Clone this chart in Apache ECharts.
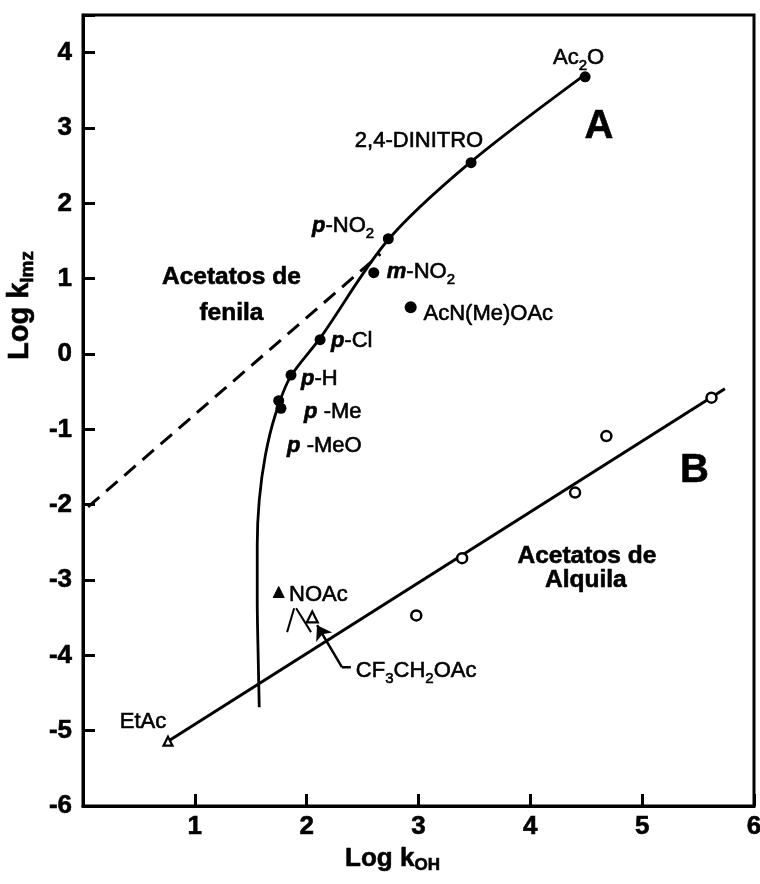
<!DOCTYPE html>
<html><head><meta charset="utf-8">
<script src="https://cdn.jsdelivr.net/npm/echarts@6/dist/echarts.min.js"></script>
<style>html,body{margin:0;padding:0;background:#fff}#c{width:760px;height:884px}</style>
</head><body><div id="c"></div>
<script>
// ---- data ----
const xTickLabels = ['1','2','3','4','5','6'];
const yTickLabels = ['-6','-5','-4','-3','-2','-1','0','1','2','3','4'];

// A: phenyl acetates etc. (filled circles)
const phenylNames = ['Ac2O','2,4-DINITRO','p-NO2','m-NO2','AcN(Me)OAc','p-Cl','p-H','p-Me','p-MeO'];
const phenylX = [4.49, 3.47, 2.73, 2.60, 2.93, 2.12, 1.86, 1.75, 1.77];
const phenylY = [3.68, 2.54, 1.53, 1.08, 0.62, 0.19, -0.28, -0.62, -0.72];

// B: alkyl acetates (open circles)
const alkylX = [5.62, 4.68, 4.40, 3.39, 2.98];
const alkylY = [-0.58, -1.09, -1.84, -2.71, -3.47];

// triangles
const triNames = ['NOAc', 'CF3CH2OAc', 'EtAc'];
const triX = [1.75, 2.05, 0.76];
const triY = [-3.16, -3.49, -5.14];

// curve A (solid)
const curveAX = [4.48, 3.46, 2.725, 2.12, 1.852, 1.719, 1.630, 1.576, 1.558, 1.558, 1.567, 1.576];
const curveAY = [3.70, 2.54, 1.51, 0.21, -0.31, -0.81, -1.35, -1.94, -2.54, -3.27, -4.06, -4.69];

// dashed line
const dashX = [0.045, 2.66];
const dashY = [-2.03, 1.33];

// line B
const lineBX = [0.75, 5.74];
const lineBY = [-5.15, -0.46];

// small strokes under NOAc and the arrow to CF3CH2OAc
const strokeL = [[1.888, -3.374], [1.825, -3.692]];
const strokeR = [[1.906, -3.374], [2.039, -3.692]];
const arrowPath = [[2.395, -4.157], [2.315, -4.157], [2.093, -3.60]];

// text annotations: [x, y, text, align]
const annotations = [
  [4.203, 3.934, 'Ac{s|2}O', 'left'],
  [2.431, 2.833, '2,4-DINITRO', 'left'],
  [2.048, 1.705, '{i|p}-NO{s|2}', 'left'],
  [2.716, 1.095, '{i|m}-NO{s|2}', 'left'],
  [3.045, 0.538, 'AcN(Me)OAc', 'left'],
  [2.217, 0.180, '{i|p}-Cl', 'left'],
  [1.950, -0.337, '{i|p}-H', 'left'],
  [1.977, -0.775, '{i|p} -Me', 'left'],
  [1.825, -1.225, '{i|p} -MeO', 'left'],
  [1.843, -3.202, 'NOAc', 'left'],
  [2.440, -4.210, 'CF{s|3}CH{s|2}OAc', 'left'],
  [0.329, -4.886, 'EtAc', 'left'],
  [1.327, 1.016, '{b|Acetatos de}', 'center'],
  [1.327, 0.538, '{b|fenila}', 'center'],
  [4.613, 3.019, '{big|A}', 'center'],
  [5.467, -1.557, '{big|B}', 'center'],
  [4.506, -2.684, '{b|Acetatos de}', 'center'],
  [4.497, -3.003, '{b|Alquila}', 'center']
];

// ---- chart ----
const FF = '"Liberation Sans", Arial, Helvetica, sans-serif';
const zip = (xs, ys) => xs.map((x, i) => [x, ys[i]]);
const heavy = {textBorderColor: '#000', textBorderWidth: 0.6};
const richStyles = {
  i: Object.assign({fontFamily: FF, fontSize: 22, fontStyle: 'italic', fontWeight: 'bold', color: '#000'}, heavy),
  s: Object.assign({fontFamily: FF, fontSize: 15, color: '#000', padding: [16, 0, 0, 0]}, heavy),
  b: Object.assign({fontFamily: FF, fontSize: 24.5, fontWeight: 'bold', color: '#000'}, heavy),
  big: Object.assign({fontFamily: FF, fontSize: 40, fontWeight: 'bold', color: '#000'}, heavy)
};

const chart = echarts.init(document.getElementById('c'), null, {renderer: 'canvas'});
chart.setOption({
  backgroundColor: '#fff',
  animation: false,
  grid: {left: 83, right: 6, top: 15, bottom: 78, show: true, borderColor: '#000', borderWidth: 3,
         containLabel: false, outerBoundsMode: 'none'},
  xAxis: {
    type: 'value', min: 0, max: 6, interval: 1,
    axisLine: {show: true, onZero: false, lineStyle: {color: '#000', width: 3}},
    axisTick: {show: true, inside: true, length: 12, lineStyle: {color: '#000', width: 3}},
    splitLine: {show: false},
    axisLabel: Object.assign({
      color: '#000', fontFamily: FF, fontSize: 26, fontWeight: 'bold', margin: 8,
      formatter: v => { const s = String(Math.round(v)); return (Math.abs(v - Math.round(v)) < 1e-9 && xTickLabels.includes(s)) ? s : ''; }
    }, heavy),
    name: '{a|Log k}{b|OH}', nameLocation: 'middle', nameGap: 37,
    nameTextStyle: {
      padding: [0, 52, 0, 0],
      rich: {
        a: Object.assign({fontFamily: FF, fontSize: 26, fontWeight: 'bold', color: '#000'}, heavy),
        b: Object.assign({fontFamily: FF, fontSize: 17, fontWeight: 'bold', color: '#000', padding: [14, 0, 0, 0]}, heavy)
      }
    }
  },
  yAxis: {
    type: 'value', min: -6, max: 4.5, interval: 1,
    axisLine: {show: true, onZero: false, lineStyle: {color: '#000', width: 3}},
    axisTick: {show: true, inside: true, length: 12, lineStyle: {color: '#000', width: 3}},
    splitLine: {show: false},
    axisLabel: Object.assign({
      color: '#000', fontFamily: FF, fontSize: 26, fontWeight: 'bold', margin: 11,
      formatter: v => { const s = String(Math.round(v)); return (Math.abs(v - Math.round(v)) < 1e-9 && yTickLabels.includes(s)) ? s : ''; }
    }, heavy),
    name: '{a|Log k}{b|Imz}', nameLocation: 'middle', nameGap: 40, nameRotate: 90,
    nameTextStyle: {
      padding: [0, 0, 0, 210],
      rich: {
        a: Object.assign({fontFamily: FF, fontSize: 29, fontWeight: 'bold', color: '#000'}, heavy),
        b: Object.assign({fontFamily: FF, fontSize: 19, fontWeight: 'bold', color: '#000', padding: [16, 0, 0, 0]}, heavy)
      }
    }
  },
  series: [
    {type: 'line', data: zip(curveAX, curveAY), smooth: 0.3, showSymbol: false, symbol: 'none',
     lineStyle: {color: '#000', width: 2.8}, silent: true, z: 2},
    {type: 'line', data: zip(dashX, dashY), showSymbol: false, symbol: 'none',
     lineStyle: {color: '#000', width: 3, type: [15, 9]}, silent: true, z: 2},
    {type: 'line', data: zip(lineBX, lineBY), showSymbol: false, symbol: 'none',
     lineStyle: {color: '#000', width: 3}, silent: true, z: 2},
    {type: 'line', data: strokeL, showSymbol: false, symbol: 'none', lineStyle: {color: '#000', width: 2}, silent: true, z: 2},
    {type: 'line', data: strokeR, showSymbol: false, symbol: 'none', lineStyle: {color: '#000', width: 2}, silent: true, z: 2},
    {type: 'line', data: arrowPath.slice(0, 2), showSymbol: false, symbol: 'none', lineStyle: {color: '#000', width: 2.5}, silent: true, z: 2},
    {type: 'line', data: [], color: '#000', silent: true, z: 3,
     markLine: {
       silent: true, animation: false,
       symbol: ['none', 'arrow'], symbolSize: 14,
       label: {show: false},
       itemStyle: {color: '#000'},
       lineStyle: {color: '#000', width: 2.5, type: 'solid', opacity: 1},
       data: [[{coord: arrowPath[1], symbol: 'none'}, {coord: arrowPath[2], symbol: 'arrow', symbolSize: 14}]]
     }},
    {type: 'scatter', data: phenylX.map((x, i) => ({name: phenylNames[i], value: [x, phenylY[i]], symbolSize: phenylNames[i] === 'AcN(Me)OAc' ? 12 : 11})),
     symbol: 'circle', itemStyle: {color: '#000', opacity: 1}, silent: true, z: 5},
    {type: 'scatter', data: zip(alkylX, alkylY), symbol: 'circle', symbolSize: 10,
     itemStyle: {color: '#fff', borderColor: '#000', borderWidth: 2.5, opacity: 1}, silent: true, z: 5},
    {type: 'scatter', data: triX.map((x, i) => ({
        name: triNames[i], value: [x, triY[i]],
        symbolSize: triNames[i] === 'EtAc' ? 9 : 11,
        itemStyle: triNames[i] === 'NOAc' ? {color: '#000', borderColor: '#000', borderWidth: 1, opacity: 1}
                                          : {color: '#fff', borderColor: '#000', borderWidth: 2.2, opacity: 1}
      })),
     symbol: 'triangle', silent: true, z: 5},
    {type: 'scatter', data: annotations.map(a => ({value: [a[0], a[1]],
        label: Object.assign({show: true, formatter: a[2], position: [0, 0], align: a[3], verticalAlign: 'middle',
                fontFamily: FF, fontSize: 22, color: '#000', opacity: 1, rich: richStyles}, heavy)})),
     symbolSize: 0, itemStyle: {color: '#000', opacity: 1}, silent: true, z: 6}
  ]
});
</script></body></html>
